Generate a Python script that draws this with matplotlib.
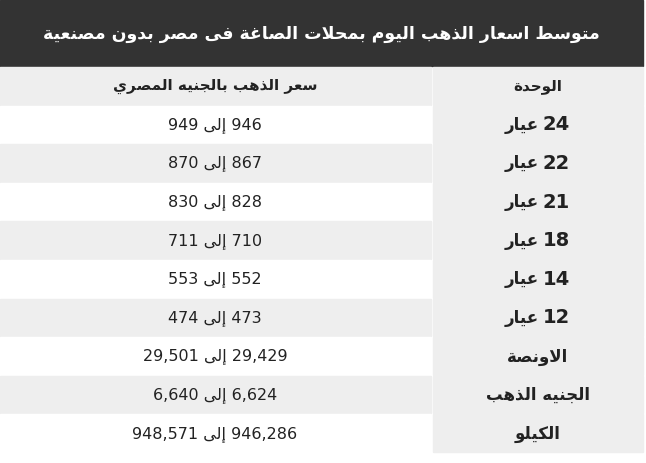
import matplotlib
matplotlib.use("Agg")
import matplotlib.pyplot as plt
from matplotlib.patches import Rectangle

title = "متوسط اسعار الذهب اليوم بمحلات الصاغة فى مصر بدون مصنعية"
col_unit = "الوحدة"
col_price = "سعر الذهب بالجنيه المصري"
karat_word = "عيار"
to_word = "إلى"
units = ["24", "22", "21", "18", "14", "12", "الاونصة", "الجنيه الذهب", "الكيلو"]
low = ["946", "867", "828", "710", "552", "473", "29,429", "6,624", "946,286"]
high = ["949", "870", "830", "711", "553", "474", "29,501", "6,640", "948,571"]

FORMS = {
    'ا': (0xFE8D, 0xFE8E, None, None), 'إ': (0xFE87, 0xFE88, None, None),
    'ب': (0xFE8F, 0xFE90, 0xFE91, 0xFE92), 'ة': (0xFE93, 0xFE94, None, None),
    'ت': (0xFE95, 0xFE96, 0xFE97, 0xFE98), 'ج': (0xFE9D, 0xFE9E, 0xFE9F, 0xFEA0),
    'ح': (0xFEA1, 0xFEA2, 0xFEA3, 0xFEA4), 'د': (0xFEA9, 0xFEAA, None, None),
    'ذ': (0xFEAB, 0xFEAC, None, None), 'ر': (0xFEAD, 0xFEAE, None, None),
    'س': (0xFEB1, 0xFEB2, 0xFEB3, 0xFEB4), 'ص': (0xFEB9, 0xFEBA, 0xFEBB, 0xFEBC),
    'ط': (0xFEC1, 0xFEC2, 0xFEC3, 0xFEC4), 'ع': (0xFEC9, 0xFECA, 0xFECB, 0xFECC),
    'غ': (0xFECD, 0xFECE, 0xFECF, 0xFED0), 'ف': (0xFED1, 0xFED2, 0xFED3, 0xFED4),
    'ك': (0xFED9, 0xFEDA, 0xFEDB, 0xFEDC), 'ل': (0xFEDD, 0xFEDE, 0xFEDF, 0xFEE0),
    'م': (0xFEE1, 0xFEE2, 0xFEE3, 0xFEE4), 'ن': (0xFEE5, 0xFEE6, 0xFEE7, 0xFEE8),
    'ه': (0xFEE9, 0xFEEA, 0xFEEB, 0xFEEC), 'و': (0xFEED, 0xFEEE, None, None),
    'ى': (0xFEEF, 0xFEF0, None, None), 'ي': (0xFEF1, 0xFEF2, 0xFEF3, 0xFEF4),
    'ﻻ': (0xFEFB, 0xFEFC, None, None), 'ﻹ': (0xFEF9, 0xFEFA, None, None),
}

def shape_word(w):
    w = w.replace('لا', 'ﻻ').replace('لإ', 'ﻹ')
    out = []
    for i, c in enumerate(w):
        f = FORMS[c]
        prev = w[i-1] if i > 0 else None
        nxt = w[i+1] if i < len(w)-1 else None
        jp = prev is not None and FORMS[prev][2] is not None
        jn = f[2] is not None and nxt is not None
        if jp and jn: cp = f[3]
        elif jp: cp = f[1]
        elif jn: cp = f[2]
        else: cp = f[0]
        out.append(chr(cp))
    return ''.join(reversed(out))

def ar(s):
    return ' '.join(shape_word(w) for w in reversed(s.split(' ')))

fig = plt.figure(figsize=(6.46, 4.63), dpi=100)
ax = fig.add_axes([0, 0, 1, 1])
ax.set_xlim(0, 646); ax.set_ylim(463, 0); ax.axis('off')
FONT = "DejaVu Sans"
split = 432
ax.add_patch(Rectangle((0, 0), 643, 66, color="#333333"))
ax.text(321, 34, ar(title), color="white", fontsize=12.5, fontweight="bold",
        ha="center", va="center", family=FONT)
rh = 38.6
top = 67
gray = "#eeeeee"
for r in range(10):
    y = top + r * rh
    lc = gray if r % 2 == 0 else "white"
    ax.add_patch(Rectangle((0, y), split - 1, rh - 1, color=lc))
    ax.add_patch(Rectangle((split + 1, y), 643 - split - 1, rh - 1, color=gray))
y0 = top + rh / 2
ax.text(538, y0, ar(col_unit), fontsize=11, fontweight="bold", ha="center", va="center", family=FONT, color="#222")
ax.text(215, y0, ar(col_price), fontsize=11, fontweight="bold", ha="center", va="center", family=FONT, color="#222")
for i, u in enumerate(units):
    yc = top + (i + 1) * rh + rh / 2
    if u.isdigit():
        ax.text(539, yc, ar(karat_word), fontsize=12, fontweight="bold", ha="right", va="center", family=FONT, color="#222")
        ax.text(543, yc, u, fontsize=14, fontweight="bold", ha="left", va="center", family=FONT, color="#222")
    else:
        ax.text(538, yc, ar(u), fontsize=12, fontweight="bold", ha="center", va="center", family=FONT, color="#222")
    ax.text(215, yc, high[i] + " " + ar(to_word) + " " + low[i], fontsize=11.5,
            ha="center", va="center", family=FONT, color="#222")
fig.savefig("out.png", dpi=100)
